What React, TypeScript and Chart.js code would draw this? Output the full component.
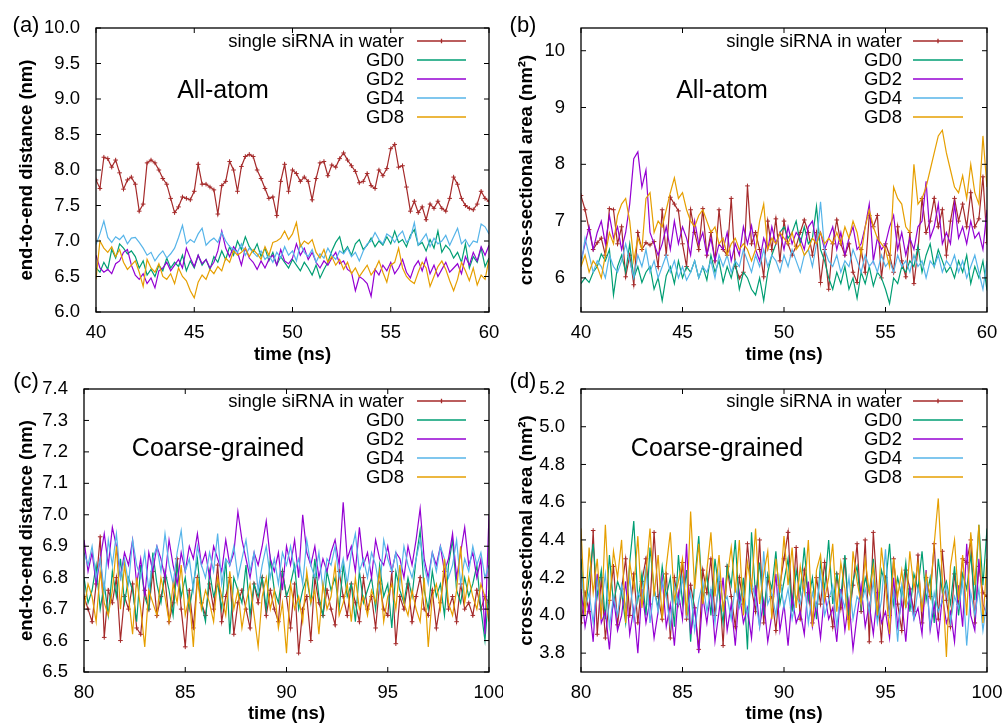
import React, { useEffect, useRef } from 'react';
import { Chart, registerables } from 'chart.js';

Chart.register(...registerables);

// ---------------- data ----------------
const SERIES_NAMES = ['single siRNA in water', 'GD0', 'GD2', 'GD4', 'GD8'];
const COLORS = ['#a52a2a', '#009e73', '#9400d3', '#56b4e9', '#e69f00'];

const TIME_START_AA = 40;
const TIME_START_CG = 80;
const TIME_STEP = 0.2;

const X_TICKS_AA = [40, 45, 50, 55, 60];
const X_TICKS_CG = [80, 85, 90, 95, 100];
const Y_TICKS_A = [6.0, 6.5, 7.0, 7.5, 8.0, 8.5, 9.0, 9.5, 10.0];
const Y_TICKS_B = [6, 7, 8, 9, 10];
const Y_TICKS_C = [6.5, 6.6, 6.7, 6.8, 6.9, 7.0, 7.1, 7.2, 7.3, 7.4];
const Y_TICKS_D = [3.8, 4.0, 4.2, 4.4, 4.6, 4.8, 5.0, 5.2];

// (a) all-atom end-to-end distance (nm)
const A_RED = [
  7.86, 7.74, 8.18, 8.16, 8.04, 8.14, 7.96, 7.73, 7.86, 7.90, 7.80,
  7.42, 7.52, 8.10, 8.14, 8.10, 8.00, 7.88, 7.80, 7.60, 7.40,
  7.48, 7.62, 7.60, 7.58, 7.70, 8.08, 7.80, 7.80, 7.76, 7.72,
  7.38, 7.78, 7.84, 8.12, 8.00, 7.70, 8.05, 8.19, 8.22, 8.19,
  8.00, 7.88, 7.74, 7.60, 7.62, 7.36, 7.84, 8.08, 7.70, 8.00,
  7.95, 7.84, 7.90, 7.84, 7.58, 7.88, 8.10, 8.12, 7.92, 8.07,
  8.04, 8.16, 8.24, 8.14, 8.06, 7.98, 7.82, 7.84, 7.95, 7.78,
  7.74, 8.00, 7.92, 8.02, 8.30, 8.36, 8.04, 8.06, 7.76, 7.42,
  7.56, 7.40, 7.48, 7.30, 7.52, 7.46, 7.56, 7.46, 7.42, 7.60,
  7.90, 7.80, 7.60, 7.50, 7.46, 7.44, 7.52, 7.70, 7.60, 7.56,
];
const A_GD0 = [
  6.62, 6.56, 6.70, 6.60, 6.88, 6.76, 6.96, 6.90, 6.82, 6.86, 6.78,
  6.62, 6.72, 6.52, 6.60, 6.50, 6.66, 6.58, 6.76, 6.62, 6.70,
  6.64, 6.80, 6.58, 6.72, 6.62, 6.80, 6.66, 6.74, 6.60, 6.78,
  6.70, 6.86, 6.74, 6.92, 6.80, 7.00, 6.88, 7.06, 6.92, 6.84,
  6.96, 6.78, 6.90, 6.72, 6.84, 6.66, 6.78, 6.70, 6.62, 6.74,
  6.66, 6.58, 6.70, 6.62, 6.52, 6.66, 6.48, 6.60, 6.70, 6.86,
  6.98, 7.06, 6.84, 6.92, 6.80, 6.96, 7.02, 6.88, 6.94, 7.04,
  6.92, 7.00, 6.94, 7.06, 6.96, 7.14, 6.98, 7.02, 6.92, 7.08,
  7.16, 6.94, 6.98, 6.86, 7.02, 6.90, 7.14, 6.84, 6.94, 6.88,
  6.76, 6.84, 6.70, 6.96, 6.62, 6.78, 6.70, 6.90, 6.64, 6.76,
];
const A_GD2 = [
  6.80, 6.62, 6.56, 6.60, 6.54, 6.68, 6.72, 6.84, 6.88, 6.66, 6.52,
  6.46, 6.54, 6.40, 6.48, 6.34, 6.58, 6.62, 6.70, 6.58, 6.66,
  6.74, 6.62, 6.90, 6.76, 6.64, 6.80, 6.68, 6.74, 6.62, 6.70,
  6.86, 7.14, 6.90, 6.78, 6.92, 6.84, 6.66, 6.90, 6.76, 6.70,
  6.60, 6.72, 6.62, 6.74, 6.80, 6.66, 6.88, 6.72, 6.68, 6.76,
  6.96, 6.80, 6.90, 6.74, 6.84, 6.70, 6.62, 6.72, 6.66, 6.76,
  6.84, 6.68, 6.72, 6.60, 6.56, 6.30, 6.50, 6.46, 6.40, 6.22,
  6.60, 6.52, 6.66, 6.58, 6.70, 6.54, 6.62, 6.74, 6.56, 6.48,
  6.64, 6.72, 6.58, 6.76, 6.54, 6.66, 6.50, 6.60, 6.70, 6.56,
  6.62, 6.68, 6.54, 6.78, 6.66, 6.84, 6.72, 6.92, 6.80, 6.94,
];
const A_GD4 = [
  6.95, 7.10, 7.28, 7.05, 6.98, 7.06, 7.02, 7.08, 6.96, 7.04, 7.05,
  6.98, 6.90, 6.80, 6.84, 6.72, 6.80, 6.86, 6.76, 6.82, 6.90,
  7.05, 7.22, 6.96, 7.02, 6.98, 7.10, 7.18, 6.94, 7.00, 7.04,
  6.98, 7.12, 7.00, 6.92, 6.88, 6.84, 6.96, 6.80, 6.90, 6.84,
  6.78, 6.86, 6.74, 6.80, 6.70, 6.84, 6.76, 6.92, 6.80, 6.86,
  6.72, 6.96, 6.84, 6.78, 6.88, 6.70, 6.82, 6.76, 6.90, 6.80,
  6.74, 6.86, 6.82, 6.90, 6.78, 6.84, 6.72, 6.86, 6.96, 7.00,
  7.12, 7.02, 6.96, 7.10, 7.06, 6.98, 7.08, 7.14, 6.98, 7.04,
  7.26, 6.94, 7.02, 7.10, 6.92, 7.04, 6.96, 7.00, 7.08, 6.94,
  7.06, 7.18, 6.96, 7.02, 6.92, 7.00, 6.98, 7.24, 7.20, 7.10,
];
const A_GD8 = [
  6.46, 7.00, 6.90, 6.84, 6.92, 6.78, 6.88, 6.70, 6.60, 6.66, 6.72,
  6.56, 6.36, 6.74, 6.62, 6.56, 6.68, 6.50, 6.46, 6.54, 6.40,
  6.62, 6.50, 6.44, 6.30, 6.20, 6.42, 6.52, 6.46, 6.60, 6.54,
  6.64, 6.58, 6.76, 6.70, 6.86, 6.80, 6.84, 6.90, 6.78, 6.88,
  6.82, 6.74, 6.92, 6.80, 6.98, 7.00, 7.04, 7.14, 7.02, 7.10,
  7.26, 6.92, 7.00, 6.96, 7.02, 6.84, 6.76, 6.88, 6.70, 6.78,
  6.66, 6.74, 6.60, 6.70, 6.54, 6.62, 6.50, 6.58, 6.66, 6.52,
  6.60, 6.72, 6.56, 6.42, 6.66, 6.70, 6.90, 6.62, 6.50, 6.44,
  6.40, 6.56, 6.70, 6.62, 6.36, 6.50, 6.64, 6.72, 6.60, 6.44,
  6.30, 6.46, 6.70, 6.58, 6.44, 6.62, 6.38, 6.52, 6.46, 6.74,
];

// (b) all-atom cross-sectional area (nm^2)
const B_RED = [
  7.45, 7.20, 6.85, 6.50, 6.62, 6.70, 6.40, 7.22, 7.20, 6.60, 6.90,
  6.02, 6.40, 5.88, 6.80, 6.50, 6.62, 6.58, 6.64, 6.20, 7.20,
  6.40, 7.42, 7.30, 7.18, 6.60, 6.20, 7.20, 6.80, 6.50, 7.22,
  6.40, 6.80, 6.30, 7.20, 6.50, 6.40, 7.40, 6.20, 6.00, 6.10,
  7.62, 6.60, 6.80, 6.50, 6.02, 7.00, 6.50, 7.04, 6.30, 7.00,
  6.60, 6.40, 6.56, 6.80, 7.02, 6.80, 6.40, 6.80, 5.92, 6.50,
  5.80, 6.60, 7.02, 6.60, 6.40, 6.60, 6.10, 5.92, 6.50, 6.10,
  7.10, 6.90, 7.10, 6.00, 6.60, 6.40, 6.10, 6.90, 6.30, 6.02,
  6.80, 5.90, 6.50, 7.40, 6.80, 7.00, 7.40, 6.90, 7.20, 6.40,
  7.00, 7.40, 7.00, 7.30, 6.90, 7.50, 6.90, 7.04, 7.78, 6.62,
];
const B_GD0 = [
  5.90, 6.00, 5.92, 6.10, 6.20, 6.42, 6.30, 6.50, 5.70, 6.20, 6.40,
  6.10, 6.60, 6.00, 6.20, 5.92, 6.10, 6.20, 5.80, 6.00, 5.60,
  6.04, 6.20, 5.90, 6.30, 6.00, 6.20, 6.10, 6.30, 6.00, 6.20,
  5.96, 6.40, 6.10, 6.30, 5.92, 6.20, 6.00, 6.30, 5.80, 6.10,
  6.00, 5.80, 5.70, 6.00, 5.60, 6.10, 6.40, 6.60, 6.80, 6.90,
  6.70, 6.80, 7.00, 6.60, 6.90, 6.60, 6.70, 7.26, 6.50, 6.30,
  6.00, 5.80, 6.10, 5.90, 6.20, 5.80, 6.00, 5.64, 6.10, 5.90,
  6.20, 5.86, 6.10, 6.00, 5.80, 5.55, 6.00, 5.90, 6.20, 6.10,
  6.30, 6.20, 6.56, 6.10, 6.40, 6.60, 6.20, 6.50, 6.30, 6.10,
  6.20, 6.00, 6.30, 6.10, 6.40, 5.90, 6.20, 6.00, 6.30, 5.78,
];
const B_GD2 = [
  6.30, 6.60, 6.90, 6.50, 6.80, 7.00, 6.60, 7.10, 6.70, 6.90, 6.50,
  6.80, 7.30, 8.10, 8.22, 7.60, 7.90, 6.80, 6.60, 6.40, 6.60,
  6.90, 6.50, 7.00, 6.60, 6.90, 6.70, 6.40, 7.00, 6.60, 6.80,
  6.40, 6.70, 6.30, 6.60, 6.50, 6.80, 6.30, 6.60, 6.40, 6.90,
  6.60, 6.92, 6.50, 6.30, 6.70, 6.50, 6.90, 6.60, 6.80, 6.50,
  6.90, 6.60, 6.80, 6.70, 6.50, 6.90, 7.00, 6.60, 6.80, 6.50,
  6.70, 6.90, 6.50, 6.80, 6.40, 6.70, 6.90, 6.50, 6.60, 6.90,
  7.30, 6.30, 6.70, 6.50, 6.60, 6.90, 7.10, 6.50, 6.80, 6.40,
  6.70, 6.50, 6.90, 7.00, 7.70, 6.70, 6.90, 7.30, 6.60, 6.80,
  6.60, 7.30, 6.70, 6.90, 6.60, 7.00, 6.70, 6.80, 6.50, 7.20,
];
const B_GD4 = [
  6.20, 6.70, 6.40, 6.10, 6.30, 6.20, 6.00, 6.40, 6.20, 6.10, 6.30,
  6.60, 6.30, 6.00, 6.40, 6.20, 6.50, 6.10, 6.30, 6.00, 6.20,
  6.40, 6.10, 6.30, 6.00, 6.20, 5.96, 6.10, 6.30, 6.00, 6.20,
  6.10, 6.30, 6.00, 6.40, 6.20, 6.40, 6.10, 6.30, 6.20, 6.50,
  6.30, 6.10, 6.40, 6.20, 6.50, 6.20, 6.40, 6.30, 6.10, 6.40,
  6.20, 6.50, 6.30, 6.10, 6.40, 6.50, 6.20, 6.60, 7.34, 6.50,
  6.30, 6.20, 6.40, 6.10, 6.30, 6.20, 6.50, 6.30, 6.10, 6.40,
  6.20, 6.30, 6.10, 6.40, 6.20, 6.30, 6.10, 6.40, 6.20, 6.30,
  6.10, 6.40, 6.20, 6.30, 6.00, 6.30, 6.20, 6.40, 6.10, 6.30,
  6.20, 6.40, 6.10, 6.30, 6.00, 6.20, 6.40, 6.10, 5.80, 6.30,
];
const B_GD8 = [
  6.20, 6.40, 6.10, 6.30, 6.20, 6.00, 6.40, 6.80, 6.60, 7.10, 7.30,
  7.40, 7.00, 6.30, 6.70, 6.50, 7.40, 7.50, 6.80, 7.00, 6.90,
  7.20, 7.50, 7.76, 7.40, 7.50, 7.20, 7.00, 6.90, 7.10, 7.20,
  7.00, 6.80, 6.90, 6.60, 6.70, 6.40, 6.60, 6.70, 6.50, 6.60,
  6.50, 6.30, 6.50, 7.00, 7.30, 6.50, 6.70, 6.60, 6.80, 6.70,
  6.60, 6.80, 6.50, 6.60, 6.40, 6.50, 6.70, 6.60, 6.80, 6.60,
  6.70, 6.60, 6.80, 6.60, 6.90, 6.70, 7.00, 6.80, 6.40, 6.90,
  7.20, 6.90, 6.70, 6.60, 6.50, 6.20, 7.60, 7.40, 7.30, 6.90,
  6.80, 8.00, 7.30, 7.40, 7.60, 7.90, 8.20, 8.50, 8.60, 8.20,
  7.90, 7.60, 7.50, 7.80, 7.40, 8.00, 7.50, 7.30, 8.50, 7.60,
];

// (c) coarse-grained end-to-end distance (nm)
const C_RED = [
  6.74, 6.70, 6.66, 6.78, 6.93, 6.61, 6.76, 6.72, 6.80, 6.60, 6.74,
  6.70, 6.78, 6.64, 6.62, 6.76, 6.70, 6.82, 6.68, 6.74, 6.80,
  6.66, 6.72, 6.86, 6.70, 6.58, 6.76, 6.64, 6.80, 6.72, 6.68,
  6.78, 6.70, 6.84, 6.66, 6.74, 6.80, 6.62, 6.72, 6.76, 6.70,
  6.64, 6.78, 6.72, 6.80, 6.68, 6.76, 6.70, 6.66, 6.82, 6.74,
  6.64, 6.78, 6.56, 6.70, 6.74, 6.60, 6.80, 6.72, 6.68, 6.76,
  6.70, 6.65, 6.82, 6.74, 6.68, 6.78, 6.72, 6.66, 6.80, 6.70,
  6.74, 6.64, 6.78, 6.70, 6.68, 6.82, 6.59, 6.74, 6.70, 6.78,
  6.66, 6.74, 6.80, 6.70, 6.68, 6.76, 6.64, 6.72, 6.82, 6.70,
  6.74, 6.66, 6.78, 6.70, 6.72, 6.68, 6.76, 6.70, 6.74, 6.72,
];
const C_GD0 = [
  6.80, 6.72, 6.76, 6.84, 6.70, 6.78, 6.68, 6.82, 6.74, 6.86, 6.72,
  6.80, 6.76, 6.66, 6.84, 6.74, 6.70, 6.88, 6.78, 6.72, 6.82,
  6.76, 6.68, 6.84, 6.74, 6.80, 6.70, 6.78, 6.86, 6.72, 6.66,
  6.82, 6.74, 6.78, 6.70, 6.86, 6.62, 6.80, 6.76, 6.72, 6.84,
  6.68, 6.78, 6.74, 6.80, 6.70, 6.86, 6.76, 6.72, 6.82, 6.74,
  6.78, 6.84, 6.70, 6.76, 6.80, 6.72, 6.86, 6.74, 6.68, 6.82,
  6.76, 6.80, 6.70, 6.84, 6.74, 6.78, 6.66, 6.82, 6.72, 6.76,
  6.80, 6.70, 6.84, 6.74, 6.78, 6.64, 6.82, 6.76, 6.72, 6.80,
  6.74, 6.86, 6.95, 6.76, 6.70, 6.82, 6.74, 6.78, 6.68, 6.84,
  6.92, 6.76, 6.72, 6.80, 6.74, 6.78, 6.84, 6.70, 6.60, 6.76,
];
const C_GD2 = [
  6.92, 6.82, 6.88, 6.78, 6.86, 6.94, 6.84, 6.96, 6.90, 6.80, 6.88,
  6.84, 6.92, 6.78, 6.86, 6.74, 6.88, 6.82, 6.90, 6.86, 6.80,
  6.92, 6.84, 6.78, 6.88, 6.82, 6.90, 6.86, 6.94, 6.84, 6.88,
  6.80, 6.90, 6.86, 6.82, 6.92, 6.84, 6.88, 7.01, 6.92, 6.86,
  6.80, 6.88, 6.84, 6.90, 6.98, 6.86, 6.82, 6.88, 6.76, 6.90,
  6.84, 6.92, 6.80, 7.00, 6.88, 6.84, 6.90, 6.80, 6.86, 6.82,
  6.88, 6.92, 6.84, 7.04, 6.86, 6.90, 6.82, 6.96, 6.84, 6.88,
  6.80, 6.92, 6.86, 6.84, 6.90, 6.82, 6.88, 6.86, 6.80, 6.90,
  6.84, 6.92, 7.02, 6.86, 6.80, 6.88, 6.84, 6.90, 6.82, 6.86,
  6.94, 6.80, 6.88, 6.96, 6.84, 6.88, 6.80, 6.86, 6.62, 7.00,
];
const C_GD4 = [
  6.88, 6.84, 6.90, 6.80, 6.86, 6.76, 6.92, 6.84, 6.94, 6.80, 6.86,
  6.78, 6.92, 6.84, 6.80, 6.88, 6.76, 6.86, 6.90, 6.82, 6.94,
  6.84, 6.78, 6.88, 6.95, 6.82, 6.86, 6.76, 6.90, 6.84, 6.80,
  6.88, 6.82, 6.94, 6.78, 6.86, 6.84, 6.90, 6.80, 6.86, 6.92,
  6.82, 6.88, 6.76, 6.84, 6.90, 6.80, 6.86, 6.78, 6.88, 6.84,
  6.90, 6.82, 6.86, 6.78, 6.92, 6.84, 6.80, 6.88, 6.76, 6.86,
  6.84, 6.90, 6.80, 6.86, 6.78, 6.88, 6.94, 6.82, 6.86, 6.80,
  6.88, 6.84, 6.76, 6.92, 6.86, 6.82, 6.88, 6.78, 6.90, 6.84,
  6.80, 6.86, 6.92, 6.84, 6.78, 6.88, 6.82, 6.90, 6.86, 6.80,
  6.84, 6.92, 6.78, 6.86, 6.82, 6.90, 6.84, 6.88, 6.80, 6.84,
];
const C_GD8 = [
  6.70, 6.78, 6.74, 6.66, 6.82, 6.72, 6.68, 6.76, 6.90, 6.70, 6.84,
  6.74, 6.62, 6.80, 6.70, 6.58, 6.76, 6.72, 6.68, 6.80, 6.74,
  6.66, 6.78, 6.72, 6.84, 6.68, 6.74, 6.58, 6.80, 6.70, 6.76,
  6.72, 6.66, 6.80, 6.74, 6.68, 6.82, 6.70, 6.76, 6.64, 6.72,
  6.78, 6.68, 6.58, 6.74, 6.80, 6.70, 6.76, 6.64, 6.72, 6.56,
  6.78, 6.70, 6.74, 6.66, 6.82, 6.72, 6.76, 6.62, 6.78, 6.70,
  6.74, 6.84, 6.68, 6.72, 6.78, 6.66, 6.80, 6.70, 6.74, 6.68,
  6.76, 6.72, 6.82, 6.66, 6.74, 6.78, 6.70, 6.84, 6.72, 6.68,
  6.76, 6.70, 6.66, 6.80, 6.58, 6.74, 6.78, 6.70, 6.86, 6.72,
  6.68, 6.76, 6.90, 6.72, 6.80, 6.74, 6.70, 6.78, 6.74, 6.66,
];

// (d) coarse-grained cross-sectional area (nm^2)
const D_RED = [
  3.96, 4.12, 4.02, 4.45, 3.90, 4.20, 3.88, 4.08, 4.26, 3.95, 4.14,
  4.30, 4.00, 4.22, 3.96, 4.18, 4.30, 4.06, 4.44, 4.10, 3.98,
  4.22, 3.88, 4.20, 4.06, 4.28, 3.98, 4.16, 4.04, 3.82, 4.24,
  4.12, 4.30, 4.00, 4.18, 3.84, 4.26, 4.10, 3.94, 4.20, 4.06,
  4.38, 4.14, 4.02, 4.40, 3.96, 4.20, 4.10, 3.92, 4.16, 4.30,
  4.44, 4.04, 4.36, 3.98, 4.24, 4.12, 3.96, 4.20, 4.06, 4.28,
  4.10, 3.94, 4.22, 4.04, 4.30, 3.98, 4.16, 4.38, 4.02, 4.40,
  3.86, 4.44, 4.12, 3.86, 4.20, 4.00, 4.30, 4.06, 3.92, 4.24,
  4.14, 4.02, 4.32, 3.96, 4.20, 4.10, 4.38, 3.98, 4.34, 4.08,
  3.94, 4.22, 4.06, 4.30, 4.28, 4.40, 3.96, 4.26, 4.12, 4.10,
];
const D_GD0 = [
  4.30, 4.02, 4.20, 4.38, 4.10, 4.24, 3.98, 4.32, 4.06, 4.18, 4.12,
  3.96, 4.28, 4.50, 4.08, 4.22, 4.00, 4.36, 4.14, 4.04, 4.26,
  4.10, 4.20, 3.94, 4.32, 4.06, 4.24, 3.86, 4.18, 4.42, 4.08,
  4.22, 4.00, 4.30, 4.12, 3.96, 4.26, 4.16, 4.40, 4.04, 4.20,
  3.82, 4.44, 4.10, 4.28, 4.00, 4.22, 4.14, 4.34, 4.06, 4.18,
  4.30, 4.02, 4.24, 4.12, 4.36, 4.08, 4.20, 3.98, 4.28, 4.14,
  4.40, 4.06, 4.22, 4.10, 4.32, 4.00, 4.18, 4.26, 4.04, 4.20,
  4.12, 4.30, 3.98, 4.24, 4.16, 4.38, 4.06, 4.20, 4.10, 4.28,
  4.02, 4.22, 4.14, 4.34, 4.08, 4.20, 3.96, 4.30, 4.12, 4.18,
  4.06, 4.26, 4.00, 4.22, 4.14, 4.32, 4.08, 4.48, 4.16, 4.46,
];
const D_GD2 = [
  4.14, 3.94, 4.06, 3.86, 4.22, 3.96, 4.02, 3.82, 4.10, 3.92, 4.00,
  4.18, 3.90, 4.04, 3.80, 4.14, 3.96, 4.08, 3.88, 4.02, 4.20,
  3.94, 4.06, 3.84, 4.12, 3.98, 4.38, 3.90, 4.04, 3.80, 4.10,
  3.96, 4.14, 3.86, 4.02, 4.20, 3.92, 4.06, 3.84, 4.12, 3.96,
  4.04, 3.88, 4.16, 3.94, 4.08, 3.86, 4.00, 4.22, 3.92, 4.06,
  3.84, 4.10, 3.96, 4.02, 3.90, 4.18, 3.94, 4.06, 3.88, 4.12,
  3.98, 4.04, 3.86, 4.14, 3.92, 4.08, 3.82, 4.00, 4.16, 3.94,
  4.06, 3.90, 4.12, 3.96, 4.02, 3.88, 4.20, 3.94, 4.08, 3.86,
  4.14, 3.98, 4.04, 3.90, 4.24, 3.92, 4.06, 3.88, 4.10, 3.96,
  4.02, 3.86, 4.16, 3.94, 4.38, 4.00, 3.92, 4.30, 4.06, 4.00,
];
const D_GD4 = [
  4.24, 4.04, 4.12, 3.96, 4.18, 4.06, 4.22, 3.94, 4.10, 4.00, 4.16,
  4.04, 4.20, 3.98, 4.12, 4.08, 4.26, 3.96, 4.14, 4.02, 4.18,
  4.10, 3.94, 4.16, 4.06, 4.20, 4.00, 4.12, 3.92, 4.08, 4.18,
  4.02, 4.14, 3.96, 4.22, 4.06, 4.10, 3.98, 4.16, 4.04, 4.12,
  4.00, 4.18, 4.08, 3.94, 4.34, 4.06, 4.12, 4.00, 4.20, 4.04,
  4.14, 3.98, 4.10, 4.06, 4.18, 3.96, 4.12, 4.04, 4.22, 4.00,
  4.08, 4.16, 3.94, 4.12, 4.04, 4.20, 3.98, 4.10, 4.06, 4.14,
  4.02, 4.18, 3.96, 4.08, 4.35, 4.00, 4.12, 3.86, 4.16, 4.04,
  4.10, 3.98, 4.14, 4.06, 4.20, 3.94, 4.12, 4.02, 4.08, 4.16,
  3.96, 4.10, 4.04, 4.18, 3.84, 4.12, 4.00, 4.14, 3.92, 4.08,
];
const D_GD8 = [
  4.46, 4.00, 4.36, 4.12, 4.30, 3.98, 4.48, 4.06, 4.34, 4.20, 4.40,
  3.96, 4.28, 4.14, 4.42, 4.04, 4.22, 4.46, 4.10, 4.32, 3.98,
  4.26, 4.44, 4.08, 4.18, 4.30, 4.00, 4.55, 4.14, 4.38, 4.06,
  4.24, 4.44, 4.10, 4.32, 4.02, 4.20, 4.36, 4.12, 4.40, 4.00,
  4.28, 4.14, 4.46, 4.06, 4.22, 4.34, 3.98, 4.30, 4.12, 4.42,
  4.16, 4.36, 4.04, 4.26, 4.12, 4.40, 3.94, 4.24, 4.32, 4.08,
  4.20, 4.38, 4.02, 4.28, 4.14, 3.92, 4.34, 4.18, 4.06, 4.30,
  4.12, 4.26, 4.00, 4.36, 4.16, 3.90, 4.30, 4.10, 4.24, 4.04,
  4.34, 4.14, 4.28, 4.02, 4.22, 4.10, 4.38, 4.62, 4.20, 3.78,
  4.26, 4.40, 4.08, 4.32, 4.00, 4.44, 4.16, 4.48, 3.96, 4.30,
];

// ---------------- layout ----------------
const FONT = "'Liberation Sans', Arial, Helvetica, sans-serif";
const FS = 18.5;
const TICK_LEN = 5;

type PanelCfg = {
  key: string;
  label: string;
  note: string;
  left: number; top: number; width: number; height: number;
  padRight: number; padTop: number; yWidth: number; xHeight: number;
  yTitlePad: number;
  xMin: number; xMax: number; yMin: number; yMax: number;
  xTicks: number[]; yTicks: number[]; yDec: number;
  yTitle: string;
  tStart: number;
  series: number[][];
  labelX: number; labelY: number;
  noteX: number; noteY: number;
  legTextRight: number; legLine0: number; legLine1: number; legY0: number;
};

const PANELS: PanelCfg[] = [
  {
    key: 'a', label: '(a)', note: 'All-atom',
    left: 0, top: 0, width: 503, height: 366,
    padRight: 14, padTop: 28, yWidth: 96, xHeight: 54, yTitlePad: 16,
    xMin: 40, xMax: 60, yMin: 6, yMax: 10,
    xTicks: X_TICKS_AA, yTicks: Y_TICKS_A, yDec: 1,
    yTitle: 'end-to-end distance (nm)', tStart: TIME_START_AA,
    series: [A_RED, A_GD0, A_GD2, A_GD4, A_GD8],
    labelX: 26, labelY: 26, noteX: 223, noteY: 91,
    legTextRight: 404, legLine0: 417, legLine1: 466, legY0: 41,
  },
  {
    key: 'b', label: '(b)', note: 'All-atom',
    left: 503, top: 0, width: 503, height: 366,
    padRight: 19, padTop: 28, yWidth: 78, xHeight: 54, yTitlePad: 12.5,
    xMin: 40, xMax: 60, yMin: 5.4, yMax: 10.4,
    xTicks: X_TICKS_AA, yTicks: Y_TICKS_B, yDec: 0,
    yTitle: 'cross-sectional area (nm²)', tStart: TIME_START_AA,
    series: [B_RED, B_GD0, B_GD2, B_GD4, B_GD8],
    labelX: 20, labelY: 26, noteX: 219, noteY: 91,
    legTextRight: 399, legLine0: 410, legLine1: 460, legY0: 41,
  },
  {
    key: 'c', label: '(c)', note: 'Coarse-grained',
    left: 0, top: 365, width: 503, height: 360,
    padRight: 14, padTop: 24, yWidth: 84, xHeight: 53, yTitlePad: 16,
    xMin: 80, xMax: 100, yMin: 6.5, yMax: 7.4,
    xTicks: X_TICKS_CG, yTicks: Y_TICKS_C, yDec: 1,
    yTitle: 'end-to-end distance (nm)', tStart: TIME_START_CG,
    series: [C_RED, C_GD0, C_GD2, C_GD4, C_GD8],
    labelX: 26, labelY: 17, noteX: 218, noteY: 84,
    legTextRight: 404, legLine0: 417, legLine1: 466, legY0: 36,
  },
  {
    key: 'd', label: '(d)', note: 'Coarse-grained',
    left: 503, top: 365, width: 503, height: 360,
    padRight: 19, padTop: 24, yWidth: 78, xHeight: 53, yTitlePad: 13,
    xMin: 80, xMax: 100, yMin: 3.7, yMax: 5.2,
    xTicks: X_TICKS_CG, yTicks: Y_TICKS_D, yDec: 1,
    yTitle: 'cross-sectional area (nm²)', tStart: TIME_START_CG,
    series: [D_RED, D_GD0, D_GD2, D_GD4, D_GD8],
    labelX: 20, labelY: 17, noteX: 214, noteY: 84,
    legTextRight: 399, legLine0: 410, legLine1: 460, legY0: 36,
  },
];

function drawCross(ctx: CanvasRenderingContext2D, x: number, y: number, r: number) {
  ctx.moveTo(x - r, y);
  ctx.lineTo(x + r, y);
  ctx.moveTo(x, y - r);
  ctx.lineTo(x, y + r);
}

function makeDecor(p: PanelCfg) {
  return {
    id: 'decor_' + p.key,
    afterDraw(chart: any) {
      const { ctx, chartArea: ca, scales } = chart;
      ctx.save();
      // frame
      ctx.strokeStyle = '#000';
      ctx.lineWidth = 1.3;
      ctx.strokeRect(ca.left, ca.top, ca.right - ca.left, ca.bottom - ca.top);
      // inward mirrored ticks
      ctx.lineWidth = 1;
      ctx.beginPath();
      for (const t of scales.x.ticks) {
        const px = scales.x.getPixelForValue(t.value);
        ctx.moveTo(px, ca.bottom); ctx.lineTo(px, ca.bottom - TICK_LEN);
        ctx.moveTo(px, ca.top); ctx.lineTo(px, ca.top + TICK_LEN);
      }
      for (const t of scales.y.ticks) {
        const py = scales.y.getPixelForValue(t.value);
        ctx.moveTo(ca.left, py); ctx.lineTo(ca.left + TICK_LEN, py);
        ctx.moveTo(ca.right, py); ctx.lineTo(ca.right - TICK_LEN, py);
      }
      ctx.stroke();
      // legend
      ctx.font = `${FS}px ${FONT}`;
      ctx.textAlign = 'right';
      ctx.textBaseline = 'middle';
      SERIES_NAMES.forEach((name, k) => {
        const y = p.legY0 + k * 19;
        ctx.fillStyle = '#000';
        ctx.fillText(name, p.legTextRight, y + 1);
        ctx.strokeStyle = COLORS[k];
        ctx.lineWidth = 1.3;
        ctx.beginPath();
        ctx.moveTo(p.legLine0, y);
        ctx.lineTo(p.legLine1, y);
        if (k === 0) drawCross(ctx, (p.legLine0 + p.legLine1) / 2, y, 2.3);
        ctx.stroke();
      });
      // note text
      ctx.fillStyle = '#000';
      ctx.font = `25px ${FONT}`;
      ctx.textAlign = 'center';
      ctx.fillText(p.note, p.noteX, p.noteY);
      // panel label
      ctx.font = `22px ${FONT}`;
      ctx.fillText(p.label, p.labelX, p.labelY);
      ctx.restore();
    },
  };
}

function PanelChart({ p }: { p: PanelCfg }) {
  const ref = useRef<HTMLCanvasElement | null>(null);
  useEffect(() => {
    if (!ref.current) return;
    const times = p.series[0].map((_, i) => +(p.tStart + i * TIME_STEP).toFixed(1));
    const datasets = SERIES_NAMES.map((name, k) => ({
      label: name,
      data: times.map((t, i) => ({ x: t, y: p.series[k][i] })),
      borderColor: COLORS[k],
      backgroundColor: COLORS[k],
      borderWidth: 1.2,
      pointRadius: k === 0 ? 2.3 : 0,
      pointHoverRadius: 0,
      pointStyle: 'cross',
      pointBorderWidth: 1,
      pointBorderColor: COLORS[k],
      tension: 0,
      fill: false,
      order: 5 - k,
    }));
    const chart = new Chart(ref.current, {
      type: 'line',
      data: { datasets } as any,
      options: {
        responsive: false,
        animation: false,
        devicePixelRatio: 1,
        layout: { padding: { left: 0, right: p.padRight, top: p.padTop, bottom: 0 } },
        plugins: { legend: { display: false }, tooltip: { enabled: false } },
        events: [],
        scales: {
          x: {
            type: 'linear',
            min: p.xMin,
            max: p.xMax,
            afterBuildTicks: (s: any) => { s.ticks = p.xTicks.map((v) => ({ value: v })); },
            afterFit: (s: any) => { s.height = p.xHeight; s.paddingLeft = 0; s.paddingRight = 0; },
            grid: { display: false, drawTicks: false },
            border: { display: false },
            ticks: {
              color: '#000',
              font: { family: FONT, size: FS },
              padding: 10,
              maxRotation: 0,
              autoSkip: false,
              callback: (v: any) => String(Math.round(Number(v))),
            },
            title: {
              display: true,
              text: 'time (ns)',
              color: '#000',
              font: { family: FONT, size: FS, weight: 'bold' },
              padding: { top: 0, bottom: 0 },
            },
          },
          y: {
            type: 'linear',
            min: p.yMin,
            max: p.yMax,
            afterBuildTicks: (s: any) => { s.ticks = p.yTicks.map((v) => ({ value: v })); },
            afterFit: (s: any) => { s.width = p.yWidth; s.paddingTop = 0; s.paddingBottom = 0; },
            grid: { display: false, drawTicks: false },
            border: { display: false },
            ticks: {
              color: '#000',
              font: { family: FONT, size: FS },
              padding: 16,
              autoSkip: false,
              callback: (v: any) => Number(v).toFixed(p.yDec),
            },
            title: {
              display: true,
              text: p.yTitle,
              color: '#000',
              font: { family: FONT, size: FS, weight: 'bold' },
              padding: { top: p.yTitlePad, bottom: 0 },
            },
          },
        },
      } as any,
      plugins: [makeDecor(p)],
    });
    return () => chart.destroy();
  }, [p]);
  return (
    <div style={{ position: 'absolute', left: p.left, top: p.top, width: p.width, height: p.height }}>
      <canvas ref={ref} width={p.width} height={p.height} style={{ display: 'block', width: p.width, height: p.height }} />
    </div>
  );
}

export default function App() {
  return (
    <div style={{ position: 'absolute', left: 0, top: 0, width: 1006, height: 725, overflow: 'hidden', background: '#fff' }}>
      {PANELS.map((p) => (
        <PanelChart key={p.key} p={p} />
      ))}
    </div>
  );
}
